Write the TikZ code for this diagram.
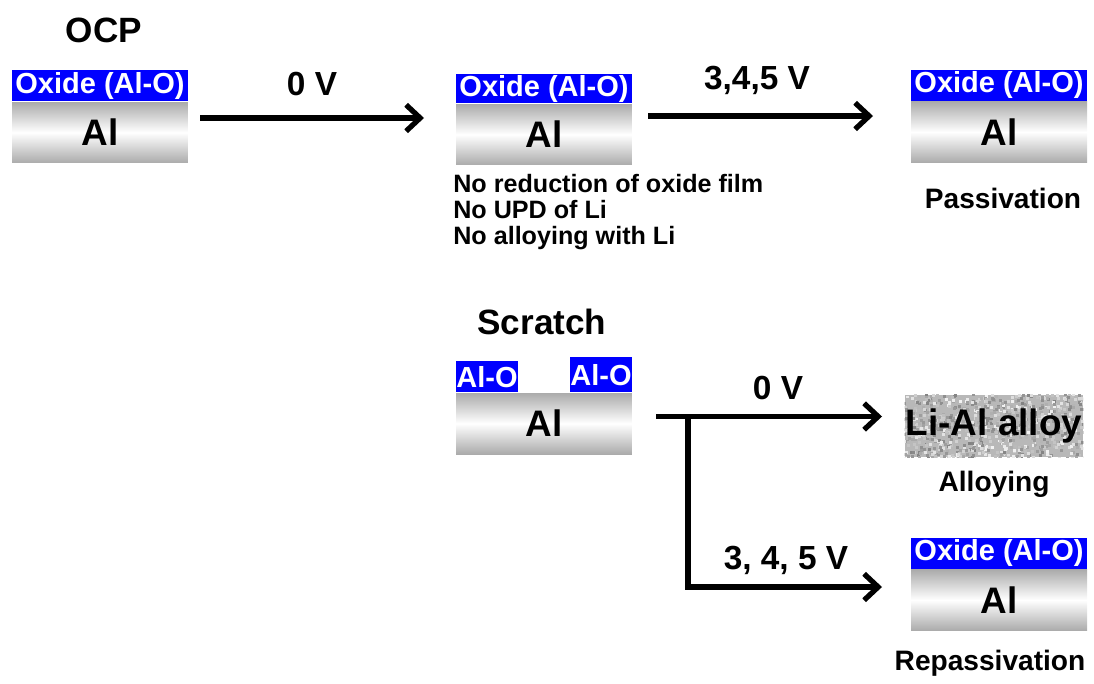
\documentclass[tikz,border=0pt]{standalone}
\usepackage{fontspec}
\setmainfont{Liberation Sans}
\usetikzlibrary{positioning}
\usetikzlibrary{arrows.meta}
\pgfdeclarelayer{alloybg}
\pgfsetlayers{alloybg,main}

\tikzset{
  metal/.style={minimum width=3.52cm, minimum height=1.22cm, inner sep=0pt,
    top color=black!33, bottom color=black!33, middle color=white,
    font=\fontsize{21}{24}\selectfont\bfseries},
  oxide/.style={fill=blue, text=white, inner sep=0pt, minimum width=3.52cm,
    minimum height=0.62cm, font=\fontsize{16.5}{19}\selectfont\bfseries},
  flow/.style={line width=3pt, -{Straight Barb[length=8pt,width=15pt]}},
  volt/.style={font=\fontsize{19}{22}\selectfont\bfseries},
  note/.style={font=\fontsize{16}{19}\selectfont\bfseries},
}

\begin{document}
\begin{tikzpicture}[x=0.02cm, y=-0.02cm]
\useasboundingbox (0,0) rectangle (1094,683);

% OCP row
\node [volt, font=\fontsize{20}{24}\selectfont\bfseries] at (104,30) (ocp) {OCP};
\node [metal] at (100,132.5) (1Al) {Al};
\node [oxide, above=0pt of 1Al] (1Ox) {Oxide (Al-O)};
\node [metal] at (544,134.5) (2Al) {Al};
\node [oxide, above=0pt of 2Al, minimum height=0.58cm] (2Ox) {Oxide (Al-O)};
\node [metal] at (999,132) (3Al) {Al};
\node [oxide, above=0pt of 3Al] (3Ox) {Oxide (Al-O)};

\node [volt] at (312,84) (v1) {0 V};
\node [volt] at (757,80) (v2) {3,4,5 V};

\node [font=\fontsize{14.3}{14.8}\selectfont\bfseries, align=left, inner sep=0pt,
  anchor=north west] at (453,174) (2note) {No reduction of oxide film\\No UPD of Li\\No alloying with Li};
\node [note] at (1003,198) (3pass) {Passivation};

% Scratch row
\node [volt, font=\fontsize{20}{24}\selectfont\bfseries] at (542,322) (scr) {Scratch};
\node [metal] at (544,423.5) (4Al) {Al};
\node [oxide, minimum width=1.24cm, anchor=south west] at (4Al.north west) (4OxL) {Al-O};
\node [oxide, minimum width=1.24cm, minimum height=0.7cm, anchor=south east] at (4Al.north east) (4OxR) {Al-O};

\node [font=\fontsize{21}{24}\selectfont\bfseries, minimum width=3.56cm,
  minimum height=1.24cm, inner sep=0pt] at (994,426) (alloy) {Li-Al alloy};
\begin{pgfonlayer}{alloybg}
\begin{scope}
\clip (alloy.south west) rectangle (alloy.north east);
\fill [black!28] (alloy.south west) rectangle (alloy.north east);
\pgfmathsetseed{7}
\foreach \i in {1,...,900}{
  \pgfmathsetmacro{\px}{903+180*rnd}
  \pgfmathsetmacro{\py}{393+66*rnd}
  \pgfmathsetmacro{\sh}{int(5+45*rnd)}
  \fill [black!\sh] (\px,\py) rectangle ++(3,3);
}
\end{scope}
\end{pgfonlayer}
\node [note] at (994,484) (5alloying) {Alloying};

\node [metal] at (999,600) (5Al) {Al};
\node [oxide, above=0pt of 5Al] (5Ox) {Oxide (Al-O)};
\node [note] at (990,663) (5repass) {Repassivation};

\node [volt] at (778,388) (v3) {0 V};
\node [volt] at (786,560) (v4) {3, 4, 5 V};

% Connections
\coordinate (a1s) at (200,118);
\coordinate (a1e) at (424,118);
\coordinate (a2s) at (648,116);
\coordinate (a2e) at (873,116);
\coordinate (b0) at (656,416.5);
\coordinate (fork) at (688,416.5);
\coordinate (b1e) at (882,416.5);
\coordinate (knee) at (688,587);
\coordinate (b2e) at (882,587);

\draw [flow] (a1s) -- (a1e);
\draw [flow] (a2s) -- (a2e);
\draw [flow] (b0) -- (b1e);
\draw [flow] (fork) -- (knee) -- (b2e);

\end{tikzpicture}
\end{document}
